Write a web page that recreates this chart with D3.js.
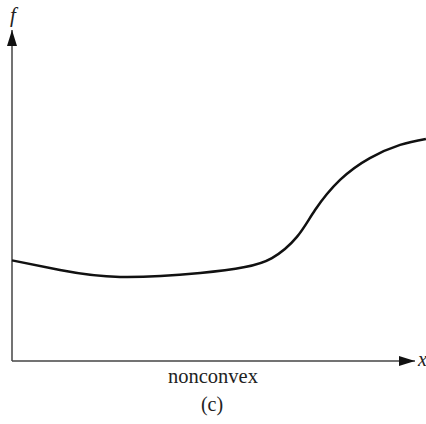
<!DOCTYPE html>
<html><head><meta charset="utf-8">
<script src="https://cdn.jsdelivr.net/npm/d3@7"></script>
<style>html,body{margin:0;padding:0;background:#fff;}svg{display:block;} text{font-family:'Liberation Serif','Times New Roman','DejaVu Serif',serif;}</style>
</head><body>
<script>
const xValues = [0, 1.19, 2.68, 4.67, 5.78, 6.45, 7.07, 7.52, 8.14, 8.88, 9.63, 10.27];
const fValues = [3.04, 2.75, 2.54, 2.66, 2.84, 3.11, 3.75, 4.56, 5.47, 6.13, 6.53, 6.71];
const xLabel = "x";
const yLabel = "f";
const caption = "nonconvex";
const subCaption = "(c)";

const W = 426, H = 424;
const svg = d3.select("body").append("svg").attr("width", W).attr("height", H);
const x = d3.scaleLinear().domain([0, 10]).range([12, 415]);
const y = d3.scaleLinear().domain([0, 10]).range([361, 30]);

const defs = svg.append("defs");
defs.append("marker").attr("id","arr").attr("viewBox","0 0 16 10").attr("refX",16).attr("refY",5)
  .attr("markerWidth",16).attr("markerHeight",10).attr("markerUnits","userSpaceOnUse").attr("orient","auto")
  .append("path").attr("d","M0,0 L16,5 L0,10 Z").attr("fill","#111");

svg.append("line").attr("x1",x(0)).attr("y1",y(0)).attr("x2",x(10)).attr("y2",y(0))
  .attr("stroke","#444").attr("stroke-width",1.5).attr("marker-end","url(#arr)");
svg.append("line").attr("x1",x(0)).attr("y1",y(0)).attr("x2",x(0)).attr("y2",y(10))
  .attr("stroke","#444").attr("stroke-width",1.5).attr("marker-end","url(#arr)");

const line = d3.line().x((d,i)=>x(xValues[i])).y((d,i)=>y(fValues[i])).curve(d3.curveNatural);
svg.append("path").datum(fValues).attr("d", line).attr("fill","none").attr("stroke","#111").attr("stroke-width",2.5);

svg.append("text").attr("x", x(0)+1).attr("y", 22).attr("text-anchor","middle")
  .attr("font-style","italic").attr("font-size",21).attr("fill","#222").text(yLabel);
svg.append("text").attr("x", x(10)+3).attr("y", y(0)+5).attr("text-anchor","start")
  .attr("font-style","italic").attr("font-size",20).attr("fill","#222").text(xLabel);
svg.append("text").attr("x", 213).attr("y", 383).attr("text-anchor","middle")
  .attr("font-size",20.5).attr("fill","#222").text(caption);
svg.append("text").attr("x", 212).attr("y", 411).attr("text-anchor","middle")
  .attr("font-size",20).attr("fill","#222").text(subCaption);
</script>
</body></html>
